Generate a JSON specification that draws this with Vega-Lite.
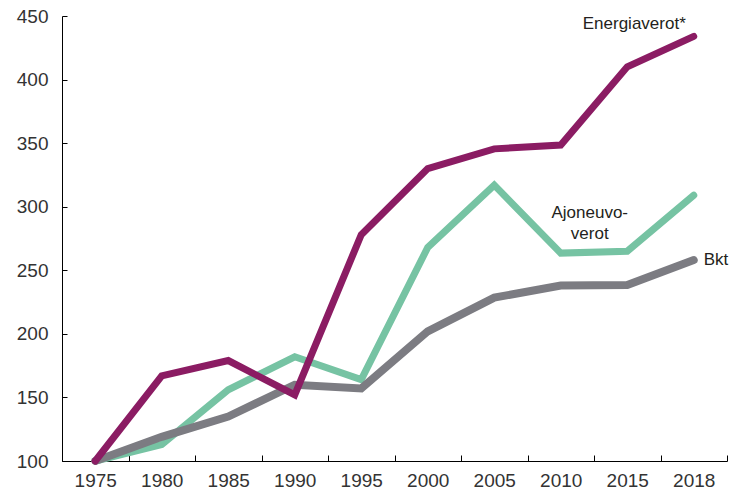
{
  "$schema": "https://vega.github.io/schema/vega-lite/v6.json",
  "width": 665,
  "height": 445,
  "autosize": {"type": "none"},
  "padding": {"left": 62, "top": 16, "right": 5, "bottom": 32},
  "config": {"view": {"stroke": null}, "font": "Liberation Sans"},
  "datasets": {
    "series": [
      {"year": "1975", "series": "Energiaverot", "value": 100},
      {"year": "1980", "series": "Energiaverot", "value": 167},
      {"year": "1985", "series": "Energiaverot", "value": 179},
      {"year": "1990", "series": "Energiaverot", "value": 152},
      {"year": "1995", "series": "Energiaverot", "value": 278},
      {"year": "2000", "series": "Energiaverot", "value": 330},
      {"year": "2005", "series": "Energiaverot", "value": 345.5},
      {"year": "2010", "series": "Energiaverot", "value": 348.5},
      {"year": "2015", "series": "Energiaverot", "value": 410},
      {"year": "2018", "series": "Energiaverot", "value": 434},
      {"year": "1975", "series": "Ajoneuvoverot", "value": 100},
      {"year": "1980", "series": "Ajoneuvoverot", "value": 113},
      {"year": "1985", "series": "Ajoneuvoverot", "value": 156},
      {"year": "1990", "series": "Ajoneuvoverot", "value": 182},
      {"year": "1995", "series": "Ajoneuvoverot", "value": 164},
      {"year": "2000", "series": "Ajoneuvoverot", "value": 268},
      {"year": "2005", "series": "Ajoneuvoverot", "value": 317},
      {"year": "2010", "series": "Ajoneuvoverot", "value": 263.5},
      {"year": "2015", "series": "Ajoneuvoverot", "value": 265},
      {"year": "2018", "series": "Ajoneuvoverot", "value": 309},
      {"year": "1975", "series": "Bkt", "value": 100},
      {"year": "1980", "series": "Bkt", "value": 119},
      {"year": "1985", "series": "Bkt", "value": 135},
      {"year": "1990", "series": "Bkt", "value": 160},
      {"year": "1995", "series": "Bkt", "value": 157},
      {"year": "2000", "series": "Bkt", "value": 202},
      {"year": "2005", "series": "Bkt", "value": 228.5},
      {"year": "2010", "series": "Bkt", "value": 238},
      {"year": "2015", "series": "Bkt", "value": 238.5},
      {"year": "2018", "series": "Bkt", "value": 258}
    ],
    "labels": [
      {"year": "2015", "value": 440, "label": "Energiaverot*", "key": "E"},
      {"year": "2010", "value": 291, "label": "Ajoneuvo-\nverot", "key": "A"},
      {"year": "2018", "value": 254, "label": "Bkt", "key": "B"}
    ]
  },
  "encoding": {
    "x": {
      "field": "year",
      "type": "ordinal",
      "bandPosition": 0.5,
      "scale": {"type": "band", "paddingInner": 0, "paddingOuter": 0, "domain": ["1975","1980","1985","1990","1995","2000","2005","2010","2015","2018"]},
      "axis": {
        "title": null,
        "labelAngle": 0,
        "tickBand": "extent",
        "tickSize": -6,
        "tickColor": "#000",
        "domainColor": "#000",
        "labelFontSize": 19,
        "labelColor": "#333",
        "labelPadding": 16
      }
    },
    "y": {
      "field": "value",
      "type": "quantitative",
      "scale": {"domain": [100, 450], "nice": false, "zero": false},
      "axis": {
        "title": null,
        "grid": false,
        "values": [100, 150, 200, 250, 300, 350, 400, 450],
        "tickSize": -5,
        "tickColor": "#000",
        "domainColor": "#000",
        "labelFontSize": 19,
        "labelColor": "#333",
        "labelPadding": 19
      }
    }
  },
  "layer": [
    {
      "data": {"name": "series"},
      "transform": [{"filter": "datum.series === 'Ajoneuvoverot'"}],
      "mark": {"type": "line", "strokeWidth": 7, "strokeCap": "round", "color": "#76C3A3"}
    },
    {
      "data": {"name": "series"},
      "transform": [{"filter": "datum.series === 'Bkt'"}],
      "mark": {"type": "line", "strokeWidth": 8, "strokeCap": "round", "color": "#7C7C82"}
    },
    {
      "data": {"name": "series"},
      "transform": [{"filter": "datum.series === 'Energiaverot'"}],
      "mark": {"type": "line", "strokeWidth": 7, "strokeCap": "round", "color": "#8B1C63"}
    },
    {
      "data": {"name": "labels"},
      "transform": [{"filter": "datum.key === 'E'"}],
      "mark": {"type": "text", "fontSize": 17, "color": "#231F20", "align": "center", "baseline": "alphabetic", "dx": 7},
      "encoding": {"text": {"field": "label"}}
    },
    {
      "data": {"name": "labels"},
      "transform": [{"filter": "datum.key === 'A'"}],
      "mark": {"type": "text", "fontSize": 17, "color": "#231F20", "align": "center", "baseline": "alphabetic", "dx": 29, "lineBreak": "\n", "lineHeight": 21},
      "encoding": {"text": {"field": "label"}}
    },
    {
      "data": {"name": "labels"},
      "transform": [{"filter": "datum.key === 'B'"}],
      "mark": {"type": "text", "fontSize": 17, "color": "#231F20", "align": "left", "baseline": "alphabetic", "dx": 10},
      "encoding": {"text": {"field": "label"}}
    }
  ]
}
